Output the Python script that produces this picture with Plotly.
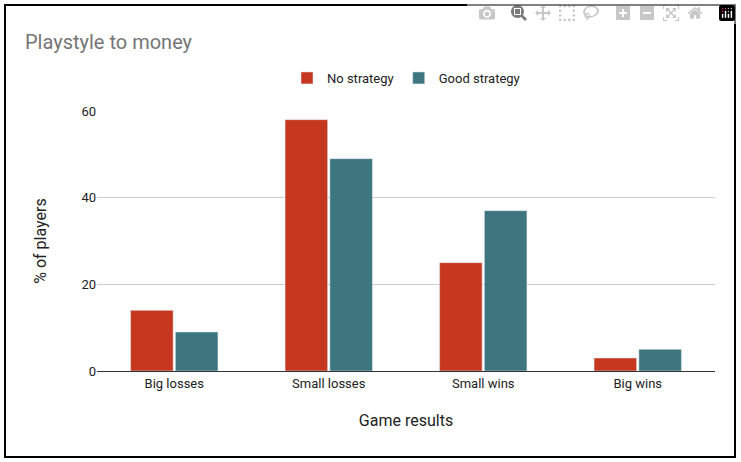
import plotly.graph_objects as go

categories = ['Big losses', 'Small losses', 'Small wins', 'Big wins']
no_strategy = [14, 58, 25, 3]
good_strategy = [9, 49, 37, 5]

fig = go.Figure()
fig.add_trace(go.Bar(x=categories, y=no_strategy, name='No strategy', marker=dict(color='#c5381f')))
fig.add_trace(go.Bar(x=categories, y=good_strategy, name='Good strategy', marker=dict(color='#3e7680')))

W, H = 741, 462
l, r, t, b = 97, 26, 111, 91
pw, ph = W - l - r, H - t - b

fig.update_layout(
    width=W, height=H, margin=dict(l=l, r=r, t=t, b=b),
    paper_bgcolor='white', plot_bgcolor='white',
    font=dict(family='Roboto, Arial', size=13, color='#222'),
    title=dict(text='Playstyle to money', x=25 / W, xanchor='left', y=1 - 42 / H, yanchor='middle',
               font=dict(size=20, color='#757575')),
    legend=dict(orientation='h', x=0.5, xanchor='center', y=1 + (111 - 78) / ph, yanchor='middle',
                font=dict(size=13)),
    bargap=0.42, bargroupgap=0.05,
    xaxis=dict(title=dict(text='Game results', standoff=25), showline=True, linecolor='#333', ticks=''),
    yaxis=dict(title=dict(text='% of players', standoff=30), range=[0, 60], dtick=20,
               gridcolor='#cccccc', zeroline=False),
    shapes=[dict(type='rect', xref='paper', yref='paper',
                 x0=(5 - l) / pw, x1=(735 - l) / pw, y0=(H - 457 - b) / ph, y1=(H - 5 - b) / ph,
                 line=dict(color='black', width=2))],
)

# drop the default page margin so the figure sits at the window origin
fig.write_html("out.html", post_script="document.body.style.margin='0';")
